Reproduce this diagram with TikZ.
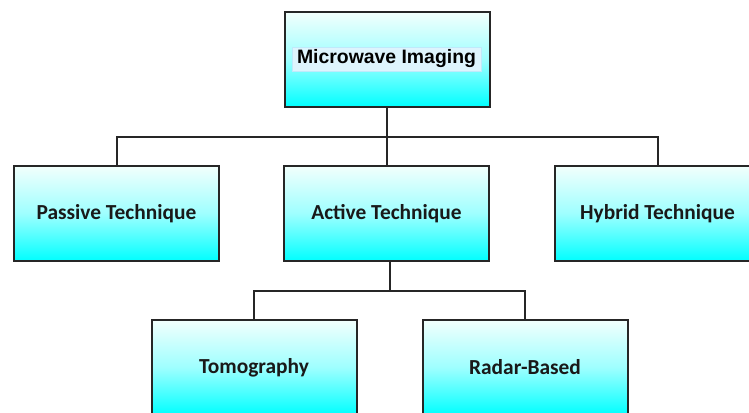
\documentclass[tikz,border=0pt]{standalone}
\usepackage{fontspec}
\newfontfamily\calib{Carlito}[BoldFont={* Bold}]
\newfontfamily\arialb{Liberation Sans}[BoldFont={Liberation Sans Bold}]
\definecolor{edge}{HTML}{262626}
\definecolor{aqua}{HTML}{00FFFF}
\definecolor{paleaqua}{HTML}{F2FFFC}
\tikzset{
  box/.style={draw=edge, line width=2pt, minimum width=205pt, minimum height=95pt,
    top color=paleaqua, bottom color=aqua, middle color=aqua!38, inner sep=0pt,
    font=\calib\bfseries\fontsize{21.4}{24}\selectfont, text=black!90},
  link/.style={draw=black!85, line width=2pt}
}
\begin{document}
\begin{tikzpicture}[x=1pt,y=-1pt]
  \useasboundingbox (0,0) rectangle (749,412);
  \clip (0,0) rectangle (749,412);
  \fill[white] (0,0) rectangle (749,412);

  % nodes
  \node[box] (mw)  at (387,59.5) {};
  \node[fill=cyan!13, draw=cyan!25, line width=0.4pt, minimum width=189pt, minimum height=24pt,
        inner sep=0pt, font=\arialb\bfseries\fontsize{19.4}{22}\selectfont] (mwt) at (386.5,59) {Microwave Imaging};
  \node[box] (pas) at (116.5,213.5) {Passive Technique};
  \node[box] (act) at (386.5,213.5) {Active Technique};
  \node[box] (hyb) at (657.5,213.5) {Hybrid Technique};
  \node[box] (tom) at (254,367.5) {Tomography};
  \node[box] (rad) at (525,367.5) {Radar-Based};

  % tree connectors
  \coordinate (j1) at (387,137);
  \coordinate (j2) at (390,291);
  \draw[link] (mw.south) -- (j1);
  \draw[link] (pas.north) |- (j1) -| (hyb.north);
  \draw[link] (j1) -- (j1 |- act.north);
  \draw[link] (j2 |- act.south) -- (j2);
  \draw[link] (tom.north) |- (j2) -| (rad.north);
\end{tikzpicture}
\end{document}
